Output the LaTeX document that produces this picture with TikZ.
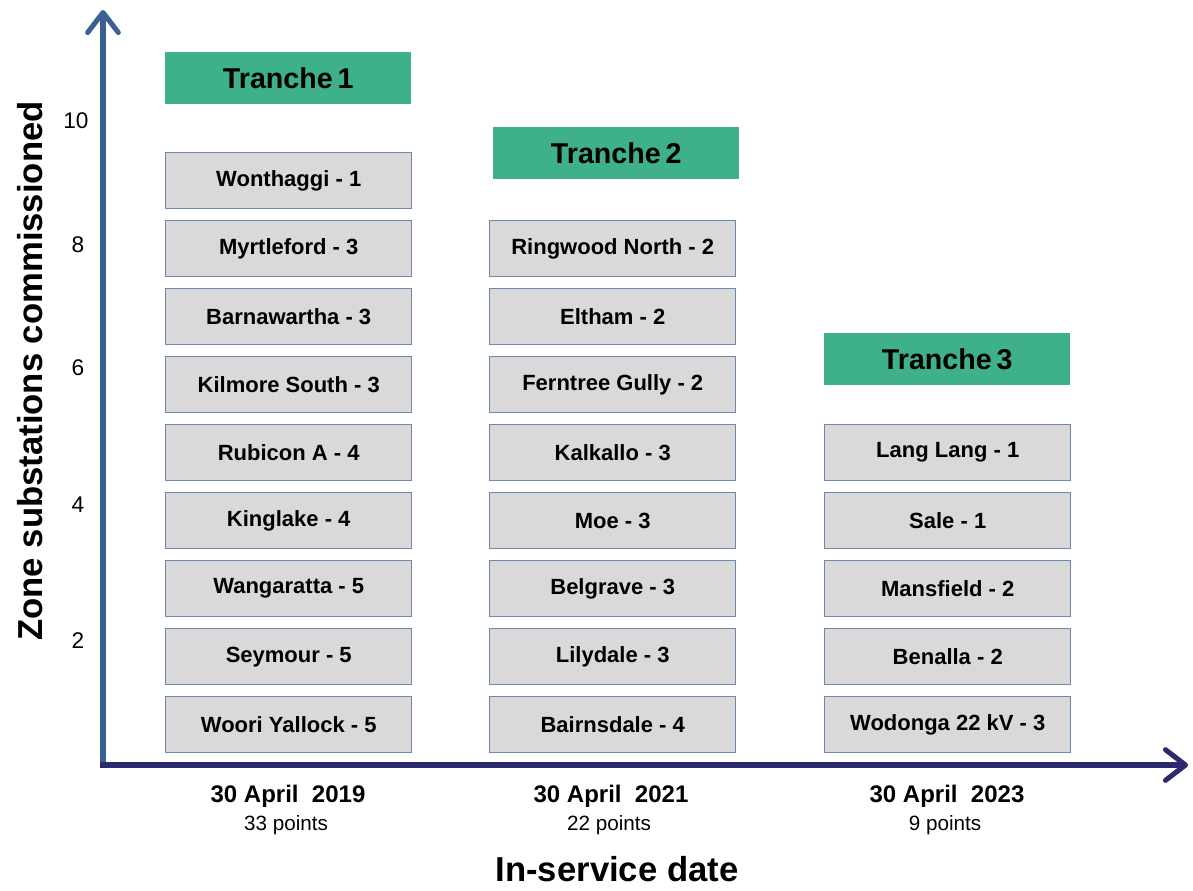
\documentclass[tikz,border=0pt]{standalone}
\usepackage{fontspec}
\setmainfont{Liberation Sans}
\usetikzlibrary{arrows.meta}
\definecolor{yax}{HTML}{3A6191}
\definecolor{xax}{HTML}{2B2A6E}
\definecolor{tgreen}{HTML}{3EB08C}
\definecolor{boxfill}{HTML}{D9D9D9}
\definecolor{boxline}{HTML}{6C87B0}
\begin{document}
\begin{tikzpicture}[x=0.75pt,y=-0.75pt,
  sub/.style={draw=boxline, line width=1.1pt, fill=boxfill, minimum width=184.5pt, minimum height=42pt, inner sep=0pt, anchor=north west, font=\bfseries\fontsize{16.5}{18}\selectfont},
  tranche/.style={fill=tgreen, minimum width=184.5pt, minimum height=39pt, inner sep=0pt, anchor=north west, font=\bfseries\fontsize{21.5}{24}\selectfont},
  tick/.style={font=\fontsize{17}{19}\selectfont},
  date/.style={font=\bfseries\fontsize{18}{20}\selectfont},
  pts/.style={font=\fontsize{15.5}{17}\selectfont},
  axlabel/.style={font=\bfseries\fontsize{26}{28}\selectfont},
  axarrow/.style={line width=3.8pt, -{Straight Barb[length=15pt, width=23pt, line cap=round, line join=round]}, line cap=butt}
]
\useasboundingbox (0,0) rectangle (1193,890);

% axes
\coordinate (origin) at (103,765);
\coordinate (ytip) at (103,10);
\coordinate (xtip) at (1188,765);
\draw[axarrow, draw=yax] (origin) -- (ytip);
\draw[axarrow, draw=xax] ([xshift=-2pt]origin) -- (xtip);

% tick labels
\node[tick] (t10) at (76,121) {10};
\node[tick] (t8) at (78,245) {8};
\node[tick] (t6) at (78,368) {6};
\node[tick] (t4) at (78,505) {4};
\node[tick] (t2) at (78,641) {2};

% axis labels
\node[axlabel, rotate=90] (ylab) at (30,371) {Zone substations commissioned};
\node[axlabel] (xlab) at (617,869) {In-service date};

% tranche headers
\node[tranche] (tr1) at (165,52) {Tranche\,1};
\node[tranche] (tr2) at (493,127) {Tranche\,2};
\node[tranche] (tr3) at (824,333) {Tranche\,3};

% column 1
\node[sub] (c1a) at (165,152) {Wonthaggi - 1};
\node[sub] (c1b) at (165,220) {Myrtleford - 3};
\node[sub] (c1c) at (165,288) {Barnawartha - 3};
\node[sub] (c1d) at (165,356) {Kilmore South - 3};
\node[sub] (c1e) at (165,424) {Rubicon A - 4};
\node[sub] (c1f) at (165,492) {Kinglake - 4};
\node[sub] (c1g) at (165,560) {Wangaratta - 5};
\node[sub] (c1h) at (165,628) {Seymour - 5};
\node[sub] (c1i) at (165,696) {Woori Yallock - 5};

% column 2
\node[sub] (c2a) at (489,220) {Ringwood North - 2};
\node[sub] (c2b) at (489,288) {Eltham - 2};
\node[sub] (c2c) at (489,356) {Ferntree Gully - 2};
\node[sub] (c2d) at (489,424) {Kalkallo - 3};
\node[sub] (c2e) at (489,492) {Moe - 3};
\node[sub] (c2f) at (489,560) {Belgrave - 3};
\node[sub] (c2g) at (489,628) {Lilydale - 3};
\node[sub] (c2h) at (489,696) {Bairnsdale - 4};

% column 3
\node[sub] (c3a) at (824,424) {Lang Lang - 1};
\node[sub] (c3b) at (824,492) {Sale - 1};
\node[sub] (c3c) at (824,560) {Mansfield - 2};
\node[sub] (c3d) at (824,628) {Benalla - 2};
\node[sub] (c3e) at (824,696) {Wodonga 22 kV - 3};

% dates
\node[date] (d1) at (288,796) {30 April\ \ 2019};
\node[pts] (p1) at (286,825) {33 points};
\node[date] (d2) at (611,796) {30 April\ \ 2021};
\node[pts] (p2) at (609,825) {22 points};
\node[date] (d3) at (947,796) {30 April\ \ 2023};
\node[pts] (p3) at (945,825) {9 points};
\end{tikzpicture}
\end{document}
